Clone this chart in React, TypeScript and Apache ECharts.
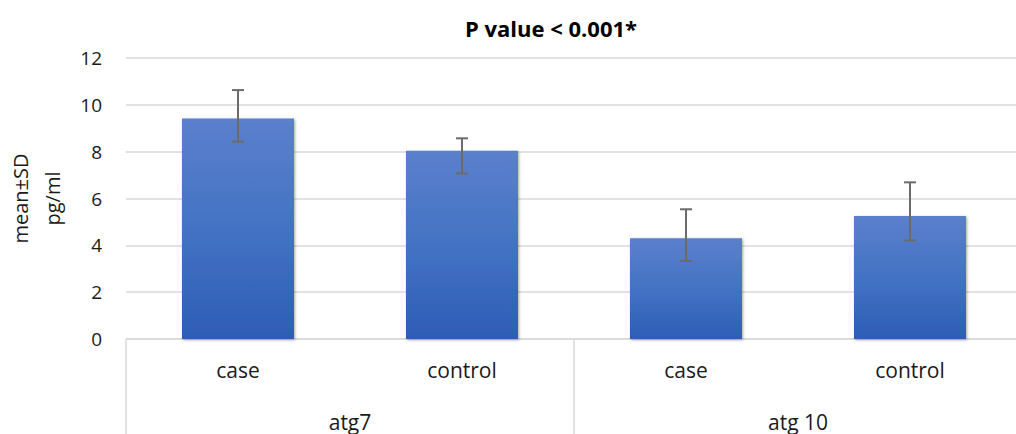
import React, { useEffect, useRef } from "react";
import * as echarts from "echarts";

const categories = ["case", "control", "case", "control"];
const groups = ["atg7", "atg 10"];
const means = [9.42, 8.04, 4.3, 5.25];
const errLow = [8.43, 7.07, 3.33, 4.21];
const errHigh = [10.63, 8.57, 5.54, 6.69];
const yTicks = { min: 0, max: 12, interval: 2 };
const titleText = "P value < 0.001*";
const yName = "mean±SD\npg/ml";

const FONT = "'Open Sans', sans-serif";

export default function App() {
  const ref = useRef<HTMLDivElement>(null);
  useEffect(() => {
    if (!ref.current) return;
    const chart = echarts.init(ref.current, undefined, { renderer: "svg" });
    const errData = categories.map((_, i) => [i, errLow[i], errHigh[i]]);
    chart.setOption({
      animation: false,
      backgroundColor: "#ffffff",
      textStyle: { fontFamily: FONT },
      title: {
        text: titleText,
        left: 546,
        textAlign: "center",
        top: 12,
        textStyle: { fontSize: 22, fontWeight: "bold", color: "#000", fontFamily: FONT },
      },
      grid: {
        left: 126,
        top: 58,
        right: -6,
        bottom: 95,
        containLabel: false,
        outerBoundsMode: "none",
      },
      xAxis: [
        {
          type: "category",
          data: categories,
          position: "bottom",
          axisLine: { show: true, lineStyle: { color: "#d9d9d9", width: 1.5 } },
          axisTick: {
            show: true,
            interval: (i: number) => i % 2 === 0,
            length: 96,
            lineStyle: { color: "#d9d9d9", width: 1.5 },
          },
          axisLabel: { fontSize: 21, color: "#1a1a1a", margin: 20, fontFamily: FONT },
        },
        {
          type: "category",
          data: groups,
          position: "bottom",
          offset: 52,
          axisLine: { show: false },
          axisTick: { show: false },
          axisLabel: { fontSize: 21, color: "#1a1a1a", margin: 20, fontFamily: FONT },
        },
      ],
      yAxis: {
        type: "value",
        min: yTicks.min,
        max: yTicks.max,
        interval: yTicks.interval,
        name: yName,
        nameLocation: "middle",
        nameRotate: 90,
        nameGap: 58,
        nameTextStyle: { fontSize: 20, color: "#1a1a1a", lineHeight: 32, fontFamily: FONT },
        axisLine: { show: false },
        axisTick: { show: false },
        axisLabel: { fontSize: 19, color: "#1a1a1a", margin: 24, fontFamily: FONT },
        splitLine: { lineStyle: { color: "#d9d9d9", width: 1.5 } },
      },
      series: [
        {
          type: "bar",
          data: means,
          xAxisIndex: 0,
          barWidth: "50%",
          itemStyle: {
            color: new echarts.graphic.LinearGradient(0, 0, 0, 1, [
              { offset: 0, color: "#5b80cc" },
              { offset: 0.5, color: "#4472c4" },
              { offset: 1, color: "#2e5db5" },
            ]),
            shadowBlur: 3,
            shadowColor: "rgba(0,0,0,0.35)",
            shadowOffsetX: 1,
            shadowOffsetY: 1,
          },
        },
        {
          type: "custom",
          xAxisIndex: 0,
          data: errData,
          z: 5,
          renderItem: (params: any, api: any) => {
            const x = api.value(0);
            const lo = api.coord([x, api.value(1)]);
            const hi = api.coord([x, api.value(2)]);
            const half = 6;
            const style = { stroke: "#6b6b6b", lineWidth: 2 };
            return {
              type: "group",
              children: [
                { type: "line", shape: { x1: hi[0], y1: hi[1], x2: lo[0], y2: lo[1] }, style },
                { type: "line", shape: { x1: hi[0] - half, y1: hi[1], x2: hi[0] + half, y2: hi[1] }, style },
                { type: "line", shape: { x1: lo[0] - half, y1: lo[1], x2: lo[0] + half, y2: lo[1] }, style },
              ],
            };
          },
        },
      ],
    });
    return () => chart.dispose();
  }, []);
  return (
    <div
      ref={ref}
      style={{ position: "fixed", left: 0, top: 0, width: 1016, height: 434 }}
    />
  );
}
